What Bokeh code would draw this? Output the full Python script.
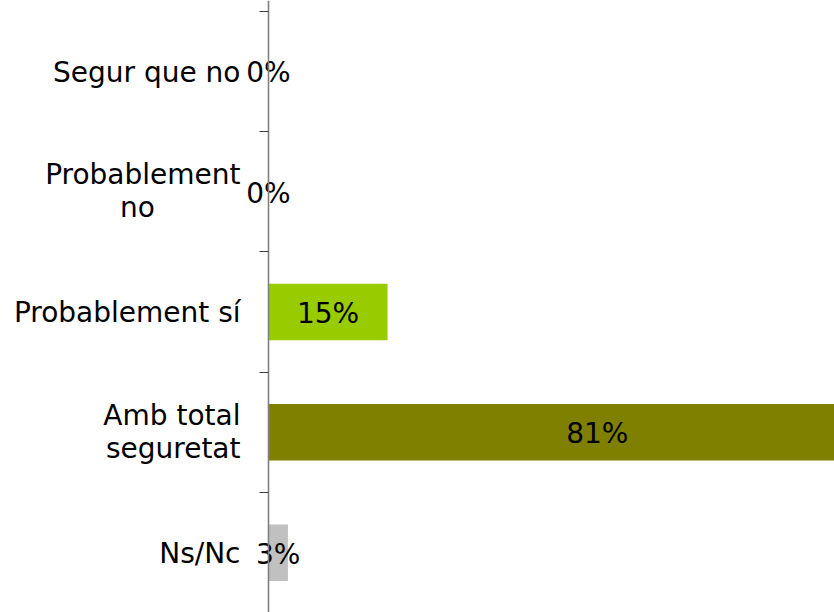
from bokeh.plotting import figure
from bokeh.models import ColumnDataSource, FixedTicker, Range1d, LinearAxis
from bokeh.core.properties import value
from bokeh.embed import file_html
from bokeh.resources import INLINE

# ---- data ----
categories = ["Segur que no", "Probablement no", "Probablement sí", "Amb total seguretat", "Ns/Nc"]
category_lines = [["Segur que no"], ["Probablement", "no"], ["Probablement sí"], ["Amb total", "seguretat"], ["Ns/Nc"]]
pct_values = [0.0, 0.0, 14.7, 81.2, 2.4]
pct_labels = ["0%", "0%", "15%", "81%", "3%"]
bar_colors = ["#4D4D00", "#666600", "#99CC00", "#808000", "#C0C0C0"]

# ---- layout ----
W, H = 834, 612
AXIS_X = 268          # screen x of the value axis
TOP_PX = 10.6         # screen y of the top tick
BAND_PX = 120.35
PX_PER_PCT = 8.1
FONT = value("DejaVu Sans")
FS = "28px"
SHIFT = -10.5         # vertical text correction, pixels

n = len(categories)
y_top = n + TOP_PX / BAND_PX
y_bottom = y_top - H / BAND_PX
x_start = -AXIS_X / PX_PER_PCT
x_end = (W - AXIS_X) / PX_PER_PCT
centers = [n - i - 0.5 for i in range(n)]


def px(dy):
    # convert a downward pixel offset into data units
    return -(dy + SHIFT) / BAND_PX


p = figure(width=W, height=H, output_backend="svg", toolbar_location=None,
           x_range=Range1d(x_start, x_end), y_range=Range1d(y_bottom, y_top),
           x_axis_type=None, y_axis_type=None,
           min_border_left=0, min_border_top=0, min_border_right=0, min_border_bottom=0)
p.outline_line_color = None
p.background_fill_color = "white"
p.border_fill_color = "white"

bars = ColumnDataSource(dict(y=centers, right=pct_values, color=bar_colors))
p.hbar(y="y", left=0, right="right", height=0.47, fill_color="color", line_color=None, source=bars)

ax = LinearAxis(fixed_location=0, ticker=FixedTicker(ticks=[float(k) for k in range(1, n + 1)]),
                major_label_overrides={float(k): "" for k in range(1, n + 1)},
                major_label_text_font_size="1px",
                axis_line_color="#808080", axis_line_width=1.6,
                major_tick_line_color="#404040", major_tick_out=9, major_tick_in=0,
                minor_tick_out=0, minor_tick_in=0)
p.add_layout(ax, "left")

# value labels
vals = ColumnDataSource(dict(x=[v / 2 for v in pct_values],
                             y=[c + px(12) for c in centers], text=pct_labels))
p.text(x="x", y="y", text="text", source=vals, text_align="center",
       text_baseline="alphabetic", text_font=FONT, text_font_size=FS, text_color="#000000")

# category labels
rx, ry, rt = [], [], []
cx, cy, ct = [], [], []
for c, lines in zip(centers, category_lines):
    if len(lines) == 1:
        rx.append(0); ry.append(c + px(11.5)); rt.append(lines[0])
    else:
        rx.append(0); ry.append(c + px(-6.5)); rt.append(lines[0])
        if lines[1] == "no":
            cx.append(0); cy.append(c + px(26.5)); ct.append(lines[1])
        else:
            rx.append(0); ry.append(c + px(26.5)); rt.append(lines[1])

p.text(x="x", y="y", text="text", source=ColumnDataSource(dict(x=rx, y=ry, text=rt)),
       x_offset=-28, text_align="right", text_baseline="alphabetic",
       text_font=FONT, text_font_size=FS, text_color="#000000")
p.text(x="x", y="y", text="text", source=ColumnDataSource(dict(x=cx, y=cy, text=ct)),
       x_offset=-131, text_align="center", text_baseline="alphabetic",
       text_font=FONT, text_font_size=FS, text_color="#000000")

open("out.html", "w").write(file_html(p, INLINE))
